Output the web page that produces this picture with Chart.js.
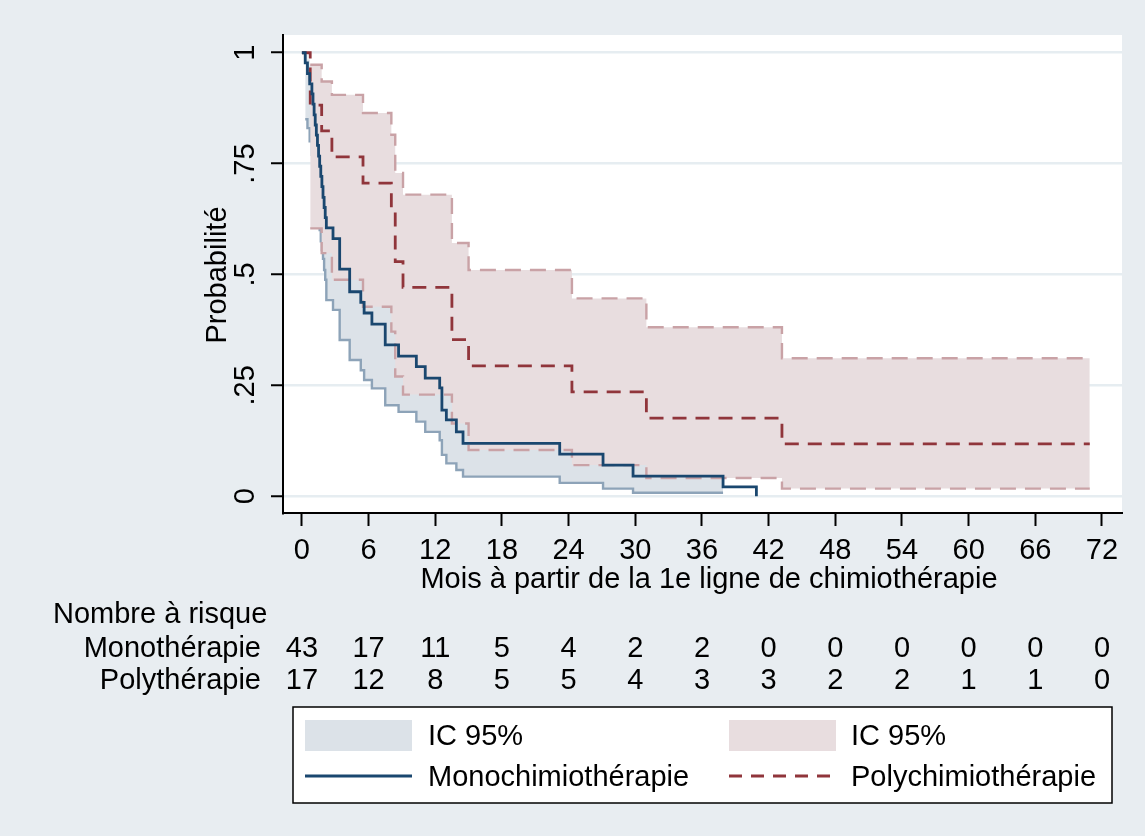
<!DOCTYPE html>
<html lang="fr">
<head>
  <meta charset="UTF-8">
  <title>Survie</title>
  <script src="https://cdn.jsdelivr.net/npm/chart.js"></script>
  <style>
    body { margin: 0; background: #e8edf1; }
  </style>
</head>
<body>

  <canvas id="myChart" width="1145" height="836"></canvas>

  <script>
    // ticks
    const xTicks = [0, 6, 12, 18, 24, 30, 36, 42, 48, 54, 60, 66, 72];
    const yTicks = [0, 0.25, 0.5, 0.75, 1];
    const yTickLabels = ['0', '.25', '.5', '.75', '1'];

    // monochimiotherapie (KM + IC 95%)
    const monoTime = [0, 0.3, 0.5, 0.7, 0.9, 1.0, 1.1, 1.2, 1.3, 1.4, 1.5, 1.6, 1.7, 1.8, 1.9, 2.0, 2.1, 2.2, 2.8, 3.4,
      4.3, 5.3, 5.6, 6.3, 7.5, 8.7, 10.3, 11.1, 12.4, 12.6, 13.0, 13.9, 14.5, 23.2, 27.1, 29.8, 37.9, 40.9];
    const monoSurv = [1, .977, .953, .930, .907, .884, .860, .837, .814, .791, .767, .744, .721, .698, .674, .651, .628, .605, .581, .512,
      .461, .437, .413, .388, .341, .316, .292, .266, .244, .194, .172, .145, .119, .095, .070, .045, .021, 0];
    const monoCiTime = [0.3, 0.5, 0.7, 0.9, 1.0, 1.1, 1.2, 1.3, 1.4, 1.5, 1.6, 1.7, 1.8, 1.9, 2.0, 2.1, 2.2, 2.8, 3.4,
      4.3, 5.3, 5.6, 6.3, 7.5, 8.7, 10.3, 11.1, 12.4, 12.6, 13.0, 13.9, 14.5, 23.2, 27.1, 29.8, 37.9];
    const monoLower = [.85, .83, .80, .77, .745, .72, .695, .67, .645, .62, .60, .575, .555, .535, .51, .488, .442, .42, .352,
      .307, .284, .262, .243, .205, .19, .168, .145, .126, .093, .074, .059, .044, .030, .017, .0075, .0075];
    const monoUpper = [.995, .985, .97, .96, .95, .94, .93, .915, .90, .885, .87, .855, .84, .82, .80, .785, .765, .745, .69,
      .645, .62, .60, .575, .53, .50, .475, .45, .42, .37, .34, .31, .28, .25, .22, .19, .19];

    // polychimiotherapie (KM + IC 95%)
    const polyTime = [0, 0.75, 1.78, 2.7, 5.5, 8.05, 8.4, 9.1, 13.5, 15.0, 24.3, 31.0, 43.2, 70.9];
    const polySurv = [1, .882, .824, .765, .706, .647, .529, .471, .353, .294, .235, .176, .118, .118];
    const polyCiTime = [0.75, 1.78, 2.7, 5.5, 8.05, 8.4, 9.1, 13.5, 15.0, 24.3, 31.0, 43.2, 70.9];
    const polyLower = [.604, .548, .488, .427, .371, .270, .229, .164, .104, .070, .041, .017, .017];
    const polyUpper = [.973, .935, .905, .864, .815, .729, .680, .571, .510, .446, .381, .311, .311];

    // nombre a risque
    const riskMono = [43, 17, 11, 5, 4, 2, 2, 0, 0, 0, 0, 0, 0];
    const riskPoly = [17, 12, 8, 5, 5, 4, 3, 3, 2, 2, 1, 1, 0];

    const FONT = '29px "Liberation Sans", Arial, sans-serif';
    const NAVY = '#1a476f';
    const MAROON = '#90353b';
    const BLUE_BAND = '#dce2e8';
    const PINK_BAND = '#e8dddf';
    const BLUE_CI = '#8da3b8';
    const PINK_CI = '#c9a2a6';

    function pts(xs, ys) {
      return xs.map((t, i) => ({ x: t, y: ys[i] }));
    }

    const base = { stepped: 'before', pointRadius: 0, pointHoverRadius: 0, fill: false, borderCapStyle: 'butt' };

    const datasets = [
      // 0: mono KM
      Object.assign({}, base, { label: 'Monochimiothérapie', data: pts(monoTime, monoSurv), borderColor: NAVY, borderWidth: 2.8, order: 0 }),
      // 1: poly KM
      Object.assign({}, base, { label: 'Polychimiothérapie', data: pts(polyTime, polySurv), borderColor: MAROON, borderWidth: 2.8, borderDash: [14, 9], order: 1 }),
      // 2: poly lower CI line
      Object.assign({}, base, { label: 'polyLow', data: pts(polyCiTime, polyLower), borderColor: PINK_CI, borderWidth: 2.4, borderDash: [16, 9], order: 2 }),
      // 3: poly upper CI line
      Object.assign({}, base, { label: 'polyUp', data: pts(polyCiTime, polyUpper), borderColor: PINK_CI, borderWidth: 2.4, borderDash: [16, 9], order: 3 }),
      // 4: poly band area
      Object.assign({}, base, { label: 'polyBand', data: pts(polyCiTime, polyUpper), borderColor: 'rgba(0,0,0,0)', borderWidth: 1, backgroundColor: PINK_BAND, fill: { target: 2 }, order: 4 }),
      // 5: mono lower CI line
      Object.assign({}, base, { label: 'monoLow', data: pts(monoCiTime, monoLower), borderColor: BLUE_CI, borderWidth: 2.4, order: 5 }),
      // 6: mono band area
      Object.assign({}, base, { label: 'monoBand', data: pts(monoCiTime, monoUpper), borderColor: 'rgba(0,0,0,0)', borderWidth: 1, backgroundColor: BLUE_BAND, fill: { target: 5 }, order: 6 })
    ];

    const decor = {
      id: 'decor',
      beforeDraw(chart) {
        const { ctx, chartArea: a } = chart;
        ctx.save();
        ctx.fillStyle = '#e8edf1';
        ctx.fillRect(0, 0, chart.width, chart.height);
        ctx.fillStyle = '#ffffff';
        ctx.fillRect(a.left, a.top, a.right - a.left, a.bottom - a.top);
        ctx.restore();
      },
      afterDraw(chart) {
        const { ctx } = chart;
        const xs = chart.scales.x, ys = chart.scales.y;
        ctx.save();
        ctx.fillStyle = '#000';
        ctx.font = FONT;
        ctx.textBaseline = 'middle';

        // x tick labels + title
        ctx.textAlign = 'center';
        xTicks.forEach(v => ctx.fillText(String(v), xs.getPixelForValue(v), 551));
        ctx.fillText('Mois à partir de la 1e ligne de chimiothérapie', 709, 580);

        // y tick labels (rotated) + title
        yTicks.forEach((v, i) => {
          ctx.save();
          ctx.translate(246, ys.getPixelForValue(v));
          ctx.rotate(-Math.PI / 2);
          ctx.fillText(yTickLabels[i], 0, 0);
          ctx.restore();
        });
        ctx.save();
        ctx.translate(218, 275);
        ctx.rotate(-Math.PI / 2);
        ctx.fillText('Probabilité', 0, 0);
        ctx.restore();

        // risk table
        ctx.textAlign = 'left';
        ctx.fillText('Nombre à risque', 53, 615);
        ctx.textAlign = 'right';
        ctx.fillText('Monothérapie', 261, 649);
        ctx.fillText('Polythérapie', 261, 681);
        ctx.textAlign = 'center';
        xTicks.forEach((v, i) => {
          const px = xs.getPixelForValue(v);
          ctx.fillText(String(riskMono[i]), px, 649);
          ctx.fillText(String(riskPoly[i]), px, 681);
        });

        // legend
        ctx.fillStyle = '#fff';
        ctx.fillRect(293, 707, 819, 96);
        ctx.strokeStyle = '#000';
        ctx.lineWidth = 1.5;
        ctx.strokeRect(293, 707, 819, 96);

        ctx.fillStyle = BLUE_BAND;
        ctx.fillRect(305, 720, 107, 31);
        ctx.fillStyle = PINK_BAND;
        ctx.fillRect(729, 720, 107, 31);

        ctx.lineWidth = 2.8;
        ctx.strokeStyle = NAVY;
        ctx.beginPath(); ctx.moveTo(305, 776); ctx.lineTo(412, 776); ctx.stroke();
        ctx.strokeStyle = MAROON;
        ctx.setLineDash([13, 9]);
        ctx.beginPath(); ctx.moveTo(729, 776); ctx.lineTo(836, 776); ctx.stroke();
        ctx.setLineDash([]);

        ctx.fillStyle = '#000';
        ctx.textAlign = 'left';
        ctx.fillText('IC 95%', 428, 737);
        ctx.fillText('IC 95%', 851, 737);
        ctx.fillText('Monochimiothérapie', 428, 778);
        ctx.fillText('Polychimiothérapie', 851, 778);
        ctx.restore();
      }
    };

    const config = {
      type: 'line',
      data: { datasets: datasets },
      options: {
        responsive: false,
        animation: false,
        layout: { padding: { top: 35, right: 23, left: 0, bottom: 0 } },
        plugins: {
          legend: { display: false },
          tooltip: { enabled: false }
        },
        scales: {
          x: {
            type: 'linear',
            min: -1.7,
            max: 73.8,
            afterBuildTicks: s => { s.ticks = xTicks.map(v => ({ value: v })); },
            afterFit: s => { s.height = 323; },
            ticks: { display: false },
            grid: { drawOnChartArea: false, drawTicks: true, tickLength: 13, tickColor: '#000', tickWidth: 2 },
            border: { display: true, color: '#000', width: 2 }
          },
          y: {
            type: 'linear',
            min: -0.038,
            max: 1.04,
            afterBuildTicks: s => { s.ticks = yTicks.map(v => ({ value: v })); },
            afterFit: s => { s.width = 283; },
            ticks: { display: false },
            grid: { color: '#e6edf1', lineWidth: 2.5, drawTicks: true, tickLength: 12, tickColor: '#000', tickWidth: 2 },
            border: { display: true, color: '#000', width: 2 }
          }
        }
      },
      plugins: [decor]
    };

    const ctx = document.getElementById('myChart').getContext('2d');
    const myChart = new Chart(ctx, config);
  </script>

</body>
</html>
